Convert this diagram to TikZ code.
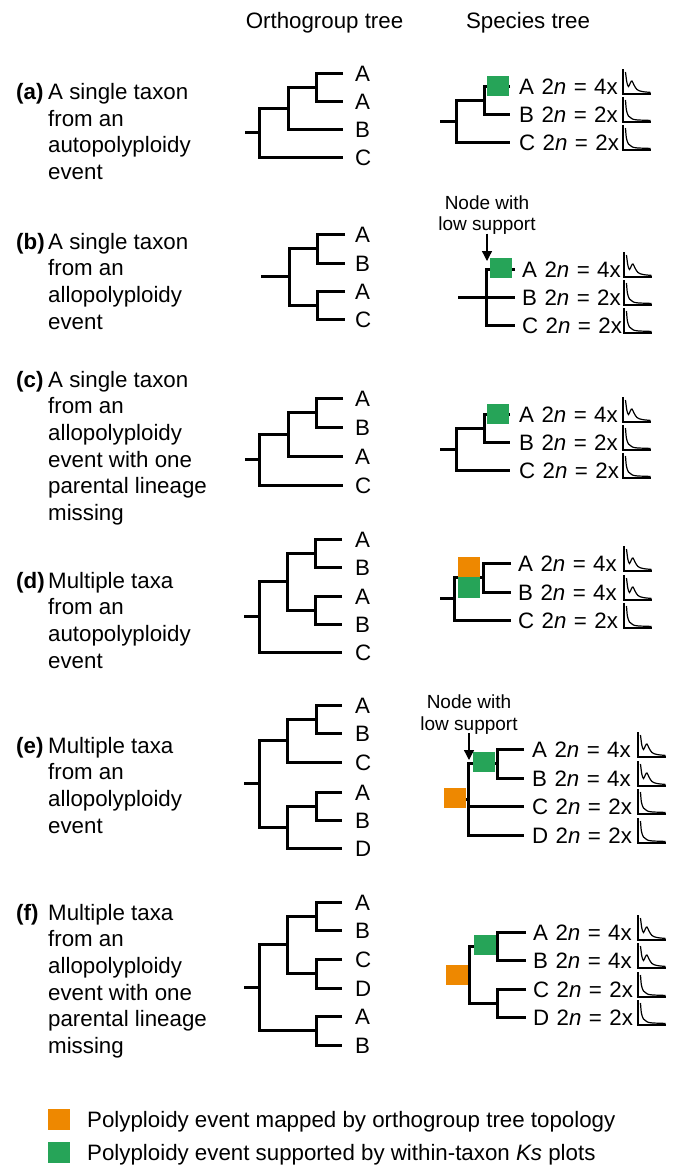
\documentclass[tikz,border=0pt]{standalone}
\usepackage{fontspec}
\setmainfont{Liberation Sans}
\newfontfamily\spacedsans[WordSpace=1.2]{Liberation Sans}
\usetikzlibrary{arrows.meta}
\definecolor{polyorange}{RGB}{238,136,0}
\definecolor{polygreen}{RGB}{38,164,88}

% bracket joining two children (#2, #3) at an inner node (#1)
\newcommand\clade[3]{\draw[branch] (#2) -| (#1) |- (#3);}

\begin{document}
\begin{tikzpicture}[x=1pt,y=-1pt,
  branch/.style={line width=3pt,line join=miter,line cap=butt},
  lbl/.style={font=\fontsize{22.3}{26.7}\selectfont,inner sep=0pt,anchor=base west},
  slbl/.style={lbl,font=\spacedsans\fontsize{22.3}{26.7}\selectfont},
  head/.style={font=\fontsize{22.3}{26.7}\selectfont,inner sep=0pt,anchor=base},
  note/.style={font=\fontsize{19}{21.5}\selectfont,inner sep=0pt,anchor=base,align=center},
  pointer/.style={line width=1.3pt,-{Triangle[length=10pt,width=10pt]}},
  greenev/.style={fill=polygreen,minimum width=22pt,minimum height=20pt,inner sep=0pt},
  orangeev/.style={fill=polyorange,minimum width=22pt,minimum height=20pt,inner sep=0pt},
  ksaxis/.style={line width=1.2pt},
  kspeak/.pic={
    \draw[ksaxis] (0,-25) -- (0,0) -- (28,0);
    \draw[ksaxis] plot[smooth,tension=0.6] coordinates
      {(2.5,-22) (3.8,-12) (5.5,-7.5) (7.5,-11.5) (9,-13) (11,-9) (14,-4.5) (19,-2.5) (27.5,-1.6)};
  },
  ksdecay/.pic={
    \draw[ksaxis] (0,-25) -- (0,0) -- (28,0);
    \draw[ksaxis] plot[smooth,tension=0.6] coordinates
      {(2.5,-22) (3.4,-12) (5.5,-6) (9,-3.2) (14,-2.1) (27.5,-1.6)};
  }]

\useasboundingbox[fill=white] (0,0) rectangle (676,1165);

% column headings
\node[head] (h-orth) at (324.5,28) {Orthogroup tree};
\node[head] (h-spec) at (528,28) {Species tree};

% multi-line descriptions: base anchor sits on the last line,
% so each block is placed by the baseline of its last line
% ---------------- (a) ----------------
\node[lbl] (a-tag) at (16,99.5) {\textbf{(a)}};
\node[lbl,align=left] (a-desc) at (48,179.6) {A single taxon\\from an\\autopolyploidy\\event};
% orthogroup tree
\coordinate (a-o1) at (343,73);  \coordinate (a-o2) at (343,101);
\coordinate (a-o3) at (343,129); \coordinate (a-o4) at (343,157);
\coordinate (a-on3) at (316,87); \coordinate (a-on2) at (288,108);
\coordinate (a-oroot) at (259,132.5); \coordinate (a-ostub) at (245,132.5);
\clade{a-on3}{a-o1}{a-o2}
\clade{a-on2}{a-on3}{a-o3}
\clade{a-oroot}{a-on2}{a-o4}
\draw[branch] (a-oroot) -- (a-ostub);
\node[lbl] (a-o1l) at (355,81) {A};
\node[lbl] (a-o2l) at (355,109) {A};
\node[lbl] (a-o3l) at (355,137) {B};
\node[lbl] (a-o4l) at (355,165) {C};
% species tree
\coordinate (a-s1) at (510,86);  \coordinate (a-s2) at (510,114); \coordinate (a-s3) at (510,142);
\coordinate (a-sn2) at (484,100); \coordinate (a-sroot) at (456,121); \coordinate (a-sstub) at (440,121);
\clade{a-sn2}{a-s1}{a-s2}
\clade{a-sroot}{a-sn2}{a-s3}
\draw[branch] (a-sroot) -- (a-sstub);
\node[greenev] (a-wgd) at (498,86) {};
\node[slbl] (a-s1l) at (519,94)  {A 2\textit{n} = 4x};
\node[slbl] (a-s2l) at (519,122) {B 2\textit{n} = 2x};
\node[slbl] (a-s3l) at (519,150) {C 2\textit{n} = 2x};
\pic at (623,94) {kspeak};
\pic at (623,122) {ksdecay};
\pic at (623,150) {ksdecay};

% ---------------- (b) ----------------
\node[lbl] (b-tag) at (16,249) {\textbf{(b)}};
\node[lbl,align=left] (b-desc) at (48,329.1) {A single taxon\\from an\\allopolyploidy\\event};
% orthogroup tree
\coordinate (b-o1) at (345,234); \coordinate (b-o2) at (345,263);
\coordinate (b-o3) at (345,291); \coordinate (b-o4) at (345,319);
\coordinate (b-onA) at (317,248.5); \coordinate (b-onB) at (317,305);
\coordinate (b-oroot) at (289,276.75); \coordinate (b-ostub) at (261,276.75);
\clade{b-onA}{b-o1}{b-o2}
\clade{b-onB}{b-o3}{b-o4}
\clade{b-oroot}{b-onA}{b-onB}
\draw[branch] (b-oroot) -- (b-ostub);
\node[lbl] (b-o1l) at (355,242) {A};
\node[lbl] (b-o2l) at (355,271) {B};
\node[lbl] (b-o3l) at (355,299) {A};
\node[lbl] (b-o4l) at (355,327) {C};
% species tree (unresolved node)
\coordinate (b-s1) at (515,269); \coordinate (b-s2) at (515,297); \coordinate (b-s3) at (515,325);
\coordinate (b-sroot) at (486,297); \coordinate (b-sstub) at (458,297);
\clade{b-sroot}{b-s1}{b-s3}
\draw[branch] (b-sstub) -- (b-s2);
\node[greenev] (b-wgd) at (501,267.5) {};
\node[note] (b-note) at (487,230.5) {Node with\\low support};
\coordinate (b-lowsup) at (487,261);
\draw[pointer] (b-note.south) ++(0,-1) -- (b-lowsup);
\node[slbl] (b-s1l) at (522,277) {A 2\textit{n} = 4x};
\node[slbl] (b-s2l) at (522,305) {B 2\textit{n} = 2x};
\node[slbl] (b-s3l) at (522,333) {C 2\textit{n} = 2x};
\pic at (624,277) {kspeak};
\pic at (624,305) {ksdecay};
\pic at (624,333) {ksdecay};

% ---------------- (c) ----------------
\node[lbl] (c-tag) at (16,387) {\textbf{(c)}};
\node[lbl,align=left] (c-desc) at (48,520.5) {A single taxon\\from an\\allopolyploidy\\event with one\\parental lineage\\missing};
% orthogroup tree
\coordinate (c-o1) at (343,398); \coordinate (c-o2) at (343,427);
\coordinate (c-o3) at (343,456); \coordinate (c-o4) at (343,485);
\coordinate (c-on3) at (316,412.5); \coordinate (c-on2) at (288,434);
\coordinate (c-oroot) at (259,459.5); \coordinate (c-ostub) at (245,459.5);
\clade{c-on3}{c-o1}{c-o2}
\clade{c-on2}{c-on3}{c-o3}
\clade{c-oroot}{c-on2}{c-o4}
\draw[branch] (c-oroot) -- (c-ostub);
\node[lbl] (c-o1l) at (355,406) {A};
\node[lbl] (c-o2l) at (355,435) {B};
\node[lbl] (c-o3l) at (355,464) {A};
\node[lbl] (c-o4l) at (355,493) {C};
% species tree
\coordinate (c-s1) at (510,414); \coordinate (c-s2) at (510,442); \coordinate (c-s3) at (510,470);
\coordinate (c-sn2) at (484,428); \coordinate (c-sroot) at (456,449); \coordinate (c-sstub) at (440,449);
\clade{c-sn2}{c-s1}{c-s2}
\clade{c-sroot}{c-sn2}{c-s3}
\draw[branch] (c-sroot) -- (c-sstub);
\node[greenev] (c-wgd) at (498,414) {};
\node[slbl] (c-s1l) at (519,422) {A 2\textit{n} = 4x};
\node[slbl] (c-s2l) at (519,450) {B 2\textit{n} = 2x};
\node[slbl] (c-s3l) at (519,478) {C 2\textit{n} = 2x};
\pic at (623,422) {kspeak};
\pic at (623,450) {ksdecay};
\pic at (623,478) {ksdecay};

% ---------------- (d) ----------------
\node[lbl] (d-tag) at (16,588) {\textbf{(d)}};
\node[lbl,align=left] (d-desc) at (48,668.1) {Multiple taxa\\from an\\autopolyploidy\\event};
% orthogroup tree
\coordinate (d-o1) at (342,539); \coordinate (d-o2) at (342,567);
\coordinate (d-o3) at (342,596); \coordinate (d-o4) at (342,624);
\coordinate (d-o5) at (342,652);
\coordinate (d-onA) at (315,553); \coordinate (d-onB) at (315,610);
\coordinate (d-on2) at (287,581.5);
\coordinate (d-oroot) at (259,616.75); \coordinate (d-ostub) at (244,616.75);
\clade{d-onA}{d-o1}{d-o2}
\clade{d-onB}{d-o3}{d-o4}
\clade{d-on2}{d-onA}{d-onB}
\clade{d-oroot}{d-on2}{d-o5}
\draw[branch] (d-oroot) -- (d-ostub);
\node[lbl] (d-o1l) at (355,547) {A};
\node[lbl] (d-o2l) at (355,575) {B};
\node[lbl] (d-o3l) at (355,604) {A};
\node[lbl] (d-o4l) at (355,632) {B};
\node[lbl] (d-o5l) at (355,660) {C};
% species tree
\coordinate (d-s1) at (511,563); \coordinate (d-s2) at (511,592); \coordinate (d-s3) at (511,620);
\coordinate (d-sn2) at (483,577.5); \coordinate (d-sroot) at (454,598.75); \coordinate (d-sstub) at (440,598.75);
\clade{d-sn2}{d-s1}{d-s2}
\clade{d-sroot}{d-sn2}{d-s3}
\draw[branch] (d-sroot) -- (d-sstub);
\node[orangeev] (d-topo) at (469,567) {};
\node[greenev,minimum height=21pt] (d-wgd) at (469,587.5) {};
\node[slbl] (d-s1l) at (518,571) {A 2\textit{n} = 4x};
\node[slbl] (d-s2l) at (518,600) {B 2\textit{n} = 4x};
\node[slbl] (d-s3l) at (518,628) {C 2\textit{n} = 2x};
\pic at (624,571) {kspeak};
\pic at (624,600) {kspeak};
\pic at (624,628) {ksdecay};

% ---------------- (e) ----------------
\node[lbl] (e-tag) at (16,753) {\textbf{(e)}};
\node[lbl,align=left] (e-desc) at (48,833.1) {Multiple taxa\\from an\\allopolyploidy\\event};
% orthogroup tree
\coordinate (e-o1) at (342,705); \coordinate (e-o2) at (342,733);
\coordinate (e-o3) at (342,762); \coordinate (e-o4) at (342,792);
\coordinate (e-o5) at (342,820); \coordinate (e-o6) at (342,848);
\coordinate (e-onA) at (316,719); \coordinate (e-onU) at (287,740.5);
\coordinate (e-onB) at (316,806); \coordinate (e-onL) at (287,827);
\coordinate (e-oroot) at (259,783.75); \coordinate (e-ostub) at (244,783.75);
\clade{e-onA}{e-o1}{e-o2}
\clade{e-onU}{e-onA}{e-o3}
\clade{e-onB}{e-o4}{e-o5}
\clade{e-onL}{e-onB}{e-o6}
\clade{e-oroot}{e-onU}{e-onL}
\draw[branch] (e-oroot) -- (e-ostub);
\node[lbl] (e-o1l) at (355,713) {A};
\node[lbl] (e-o2l) at (355,741) {B};
\node[lbl] (e-o3l) at (355,770) {C};
\node[lbl] (e-o4l) at (355,800) {A};
\node[lbl] (e-o5l) at (355,828) {B};
\node[lbl] (e-o6l) at (355,856) {D};
% species tree (unresolved node)
\coordinate (e-s1) at (524,749); \coordinate (e-s2) at (524,778);
\coordinate (e-s3) at (524,806); \coordinate (e-s4) at (524,835);
\coordinate (e-snAB) at (497,763.5); \coordinate (e-sroot) at (468,799); \coordinate (e-sstub) at (452,799);
\clade{e-snAB}{e-s1}{e-s2}
\clade{e-sroot}{e-snAB}{e-s4}
\draw[branch] (e-s3) -- (e-s3 -| e-sroot);
\draw[branch] (e-sroot) -- (e-sstub);
\node[greenev] (e-wgd) at (484,762) {};
\node[orangeev] (e-topo) at (455,798) {};
\node[note] (e-note) at (469,730) {Node with\\low support};
\coordinate (e-lowsup) at (469,760);
\draw[pointer] (e-note.south) ++(0,-1) -- (e-lowsup);
\node[slbl] (e-s1l) at (532,757) {A 2\textit{n} = 4x};
\node[slbl] (e-s2l) at (532,786) {B 2\textit{n} = 4x};
\node[slbl] (e-s3l) at (532,814) {C 2\textit{n} = 2x};
\node[slbl] (e-s4l) at (532,843) {D 2\textit{n} = 2x};
\pic at (638,757) {kspeak};
\pic at (638,786) {kspeak};
\pic at (638,814) {ksdecay};
\pic at (638,843) {ksdecay};

% ---------------- (f) ----------------
\node[lbl] (f-tag) at (16,920) {\textbf{(f)}};
\node[lbl,align=left] (f-desc) at (48,1053.5) {Multiple taxa\\from an\\allopolyploidy\\event with one\\parental lineage\\missing};
% orthogroup tree
\coordinate (f-o1) at (342,902);  \coordinate (f-o2) at (342,930);
\coordinate (f-o3) at (342,959);  \coordinate (f-o4) at (342,988);
\coordinate (f-o5) at (342,1016); \coordinate (f-o6) at (342,1045);
\coordinate (f-onA) at (316,916); \coordinate (f-onC) at (316,973.5);
\coordinate (f-onU) at (287,944.75); \coordinate (f-onB) at (316,1030.5);
\coordinate (f-oroot) at (259,987.6); \coordinate (f-ostub) at (244,987.6);
\clade{f-onA}{f-o1}{f-o2}
\clade{f-onC}{f-o3}{f-o4}
\clade{f-onU}{f-onA}{f-onC}
\clade{f-onB}{f-o5}{f-o6}
\clade{f-oroot}{f-onU}{f-onB}
\draw[branch] (f-oroot) -- (f-ostub);
\node[lbl] (f-o1l) at (355,910)  {A};
\node[lbl] (f-o2l) at (355,938)  {B};
\node[lbl] (f-o3l) at (355,967)  {C};
\node[lbl] (f-o4l) at (355,996)  {D};
\node[lbl] (f-o5l) at (355,1024) {A};
\node[lbl] (f-o6l) at (355,1053) {B};
% species tree
\coordinate (f-s1) at (526,932);  \coordinate (f-s2) at (526,960);
\coordinate (f-s3) at (526,989);  \coordinate (f-s4) at (526,1017);
\coordinate (f-snAB) at (497,946); \coordinate (f-snCD) at (497,1003);
\coordinate (f-sroot) at (469,974.5); \coordinate (f-sstub) at (452,974.5);
\clade{f-snAB}{f-s1}{f-s2}
\clade{f-snCD}{f-s3}{f-s4}
\clade{f-sroot}{f-snAB}{f-snCD}
\draw[branch] (f-sroot) -- (f-sstub);
\node[greenev] (f-wgd) at (485,944.5) {};
\node[orangeev] (f-topo) at (457,975) {};
\node[slbl] (f-s1l) at (533,940)  {A 2\textit{n} = 4x};
\node[slbl] (f-s2l) at (533,968)  {B 2\textit{n} = 4x};
\node[slbl] (f-s3l) at (533,997)  {C 2\textit{n} = 2x};
\node[slbl] (f-s4l) at (533,1025) {D 2\textit{n} = 2x};
\pic at (638,940)  {kspeak};
\pic at (638,968)  {kspeak};
\pic at (638,997)  {ksdecay};
\pic at (638,1025) {ksdecay};

% ---------------- legend ----------------
\node[orangeev,minimum height=21pt] (leg-o) at (59,1119.5) {};
\node[lbl] (leg-ot) at (87,1127) {Polyploidy event mapped by orthogroup tree topology};
\node[greenev,minimum height=21pt] (leg-g) at (59,1152.5) {};
\node[lbl] (leg-gt) at (87,1160) {Polyploidy event supported by within-taxon \textit{Ks} plots};
\end{tikzpicture}
\end{document}
